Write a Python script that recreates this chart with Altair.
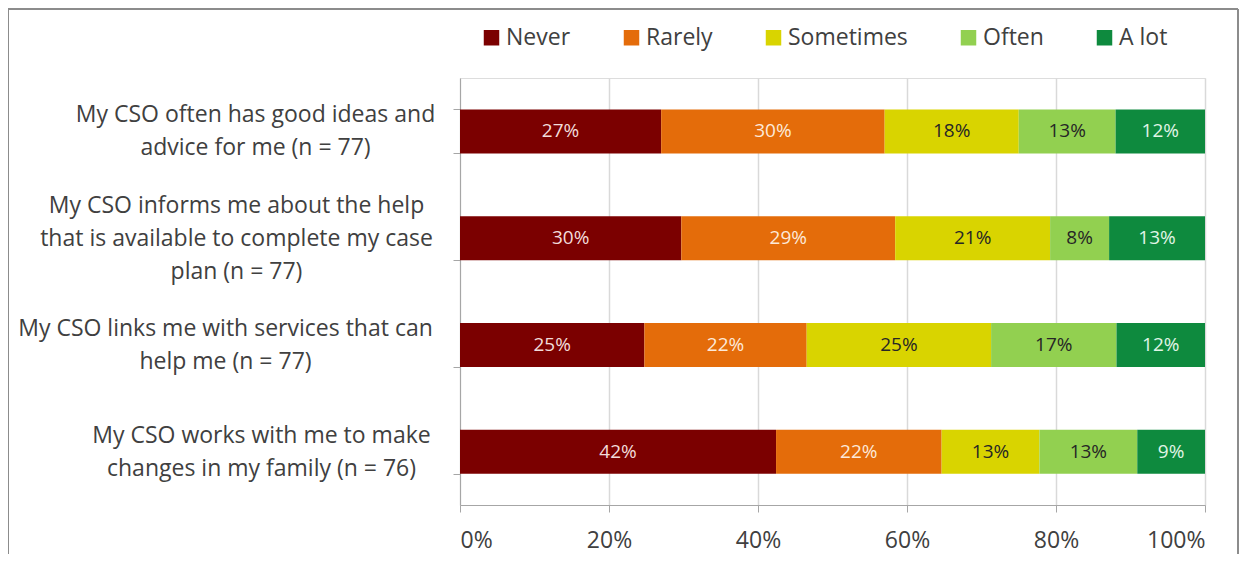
import altair as alt
import pandas as pd

questions = [
    "My CSO often has good ideas and\nadvice for me (n = 77)",
    "My CSO informs me about the help\nthat is available to complete my case\nplan (n = 77)",
    "My CSO links me with services that can\nhelp me (n = 77)",
    "My CSO works with me to make\nchanges in my family (n = 76)",
]
levels = ["Never", "Rarely", "Sometimes", "Often", "A lot"]
colors = ["#7B0000", "#E46C0A", "#D9D400", "#92D050", "#0E8A3E"]
text_colors = ["#F2DCDB", "#FDE9D9", "#262626", "#262626", "#E0F5E6"]

never = [27, 30, 25, 42]
rarely = [30, 29, 22, 22]
sometimes = [18, 21, 25, 13]
often = [13, 8, 17, 13]
alot = [12, 13, 12, 9]
series = [never, rarely, sometimes, often, alot]

rows = []
for li, (lev, vals) in enumerate(zip(levels, series)):
    for qi, q in enumerate(questions):
        rows.append({"q": q, "level": lev, "order": li, "value": vals[qi],
                     "label": f"{vals[qi]}%", "tcolor": text_colors[li]})
df = pd.DataFrame(rows)

FONT = "Open Sans"
GREY = "#404040"
LINE_H = 33

# per-label padding so each multi-line label block is centred like Excel's
pad_cond = {
    "condition": [
        {"test": f"datum.value == {questions[0]!r}", "value": 198},
        {"test": f"datum.value == {questions[1]!r}", "value": 217},
        {"test": f"datum.value == {questions[2]!r}", "value": 228},
    ],
    "value": 192,
}
# vertical centring of the multi-line label blocks on their bars
off_cond = {
    "condition": [
        {"test": f"datum.value == {questions[1]!r}", "value": -LINE_H},
    ],
    "value": -LINE_H / 2,
}

y_scale = alt.Scale(domain=questions, paddingInner=0.59, paddingOuter=0.295)

y_enc = alt.Y("q:N", sort=questions, title=None, scale=y_scale,
              axis=alt.Axis(labelExpr="datum.value ? split(datum.value, '\\n') : ''",
                            labelFont=FONT, labelFontSize=23, labelColor=GREY,
                            labelAlign="center", labelPadding=pad_cond,
                            labelOffset=off_cond,
                            labelLineHeight=LINE_H, labelLimit=600,
                            domainColor="#A6A6A6", tickColor="#A6A6A6", tickSize=7,
                            tickBand="extent", grid=False, labelBound=False))

x_enc = alt.X("value:Q", stack="normalize", title=None,
              scale=alt.Scale(domain=[0, 1], nice=False),
              axis=alt.Axis(format=".0%", values=[0, 0.2, 0.4, 0.6, 0.8, 1.0],
                            labelFont=FONT, labelFontSize=23, labelColor=GREY,
                            labelPadding=17, domainColor="#A6A6A6", tickColor="#A6A6A6",
                            tickSize=7, gridColor="#D9D9D9", gridWidth=1.5))

bars = alt.Chart(df).mark_bar(size=44).encode(
    x=x_enc,
    y=y_enc,
    color=alt.Color("level:N", sort=levels,
                    scale=alt.Scale(domain=levels, range=colors),
                    legend=alt.Legend(title=None, orient="none", direction="horizontal",
                                      legendX=20, legendY=-52, symbolType="square",
                                      symbolSize=240, symbolStrokeWidth=0,
                                      labelFont=FONT, labelFontSize=23,
                                      labelColor=GREY, columnPadding=49,
                                      labelOffset=3)),
    order=alt.Order("order:Q"),
)

labels = alt.Chart(df).transform_stack(
    stack="value", groupby=["q"], as_=["v0", "v1"], offset="normalize",
    sort=[alt.SortField("order", order="ascending")]
).transform_calculate(mid="(datum.v0 + datum.v1) / 2").mark_text(
    font=FONT, fontSize=19
).encode(
    x=alt.X("mid:Q"),
    y=alt.Y("q:N", sort=questions, scale=y_scale),
    text="label:N",
    color=alt.Color("tcolor:N", scale=None),
)

frame_data = pd.DataFrame({"k": [0]})
base = alt.Chart(frame_data)
frame = alt.layer(
    base.mark_rule(color="#8C8C8C", strokeWidth=2).encode(
        x=alt.value(-452), x2=alt.value(778), y=alt.value(-69)),
    base.mark_rule(color="#8C8C8C", strokeWidth=2).encode(
        x=alt.value(-452), y=alt.value(-69), y2=alt.value(520)),
    base.mark_rule(color="#8C8C8C", strokeWidth=2).encode(
        x=alt.value(778), y=alt.value(-69), y2=alt.value(520)),
)

chart = alt.layer(bars, labels, frame).properties(
    width=745, height=427,
    autosize=alt.AutoSizeParams(type="none"),
    padding={"left": 452, "top": 70, "right": 35, "bottom": 49},
).configure_view(stroke=None).configure(background="white")

chart.save("out.html", embed_options={"renderer": "svg", "actions": False})
